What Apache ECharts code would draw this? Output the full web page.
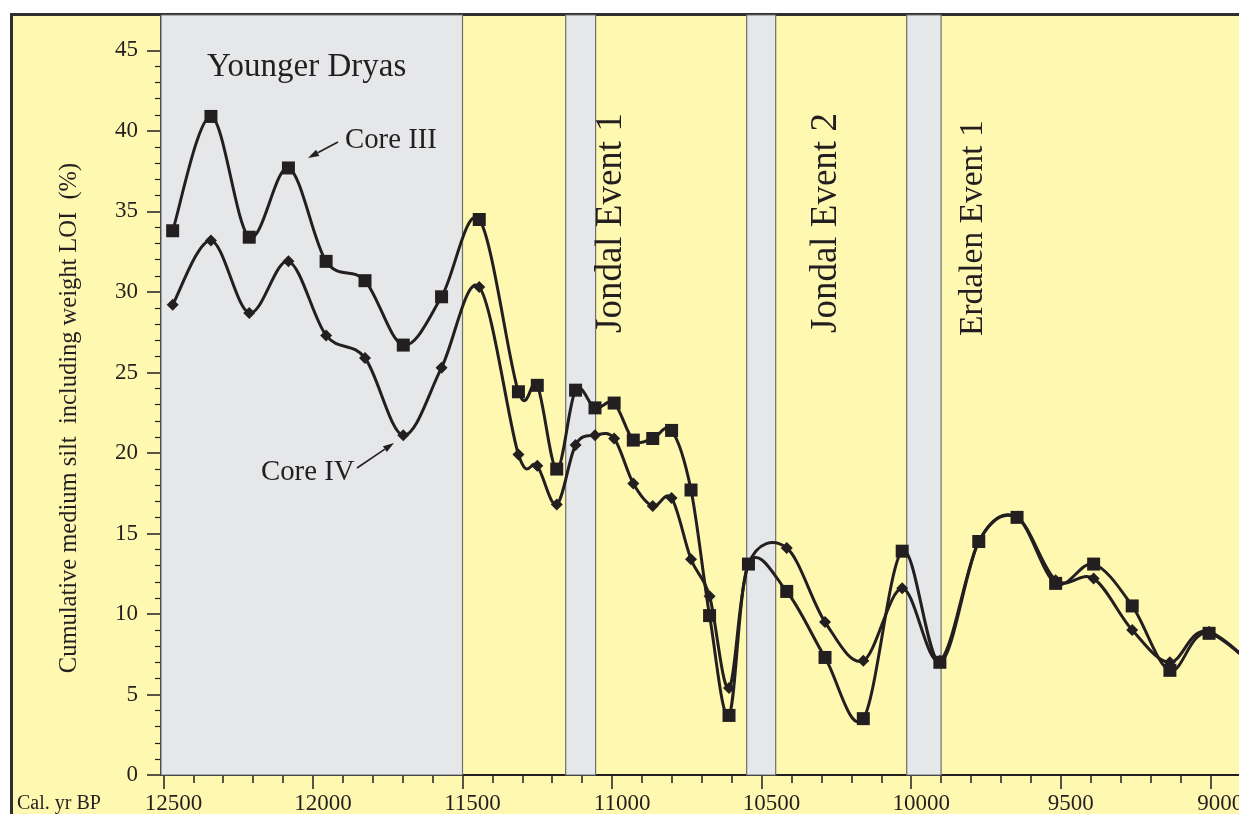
<!DOCTYPE html>
<html>
<head>
<meta charset="utf-8">
<script src="https://cdn.jsdelivr.net/npm/echarts@6/dist/echarts.min.js"></script>
<style>
html, body { margin: 0; padding: 0; background: #fff; overflow: hidden; }
#frame { position: absolute; left: 10px; top: 13px; width: 1280px; height: 860px; border: 3px solid #2f2f2f; background: #fff8b0; }
#chart { position: absolute; left: 0; top: 0; width: 1239px; height: 814px; }
</style>
</head>
<body>
<div id="frame"></div>
<div id="chart"></div>
<script>
// 年代 cal. yr BP（两个岩芯共用同一取样位置）
const ages = [12469, 12341, 12213, 12082, 11956, 11826, 11698, 11570, 11444, 11313, 11250, 11185, 11122, 11057, 10993, 10929, 10864, 10801, 10736, 10674, 10609, 10544, 10416, 10288, 10160, 10030, 9904, 9774, 9646, 9517, 9390, 9261, 9135, 9004, 8745]
// Core III（方块）
const core3 = [33.8, 40.9, 33.4, 37.7, 31.9, 30.7, 26.7, 29.7, 34.5, 23.8, 24.2, 19.0, 23.9, 22.8, 23.1, 20.8, 20.9, 21.4, 17.7, 9.9, 3.7, 13.1, 11.4, 7.3, 3.5, 13.9, 7.0, 14.5, 16.0, 11.9, 13.1, 10.5, 6.5, 8.8, 4.8]
// Core IV（菱形）
const core4 = [29.2, 33.2, 28.7, 31.9, 27.3, 25.9, 21.1, 25.3, 30.3, 19.9, 19.2, 16.8, 20.5, 21.1, 20.9, 18.1, 16.7, 17.2, 13.4, 11.1, 5.4, 13.1, 14.1, 9.5, 7.1, 11.6, 7.1, 14.5, 16.0, 12.1, 12.2, 9.0, 7.0, 8.9, 4.8]

// 刻度
const xMajor = [12500, 12000, 11500, 11000, 10500, 10000, 9500, 9000]
const yMajor = [0, 5, 10, 15, 20, 25, 30, 35, 40, 45]
const xMinor = []
for (let v = 12400; v >= 8900; v -= 100) if (v % 500 !== 0) xMinor.push(v)
const yMinor = []
for (let v = 1; v < 45; v++) if (v % 5 !== 0) yMinor.push(v)

// 灰色事件区间
const eventFrom = [12508, 11155, 10550, 10015]
const eventTo = [11500, 11055, 10453, 9900]

const ink = '#231f20'
const serif = '"Liberation Serif", "DejaVu Serif", serif'

//箭头
function arrow(x1, y1, x2, y2) {
    const a = Math.atan2(y2 - y1, x2 - x1)
    const len = 11, w = 3.5
    const bx = x2 - Math.cos(a) * len, by = y2 - Math.sin(a) * len
    const px = -Math.sin(a) * w, py = Math.cos(a) * w
    return [
        { type: 'line', z: 100, shape: { x1: x1, y1: y1, x2: bx, y2: by }, style: { stroke: ink, lineWidth: 1.6 } },
        { type: 'polygon', z: 100, shape: { points: [[x2, y2], [bx + px, by + py], [bx - px, by - py]] }, style: { fill: ink } }
    ]
}

function label(text, x, y, size, rot) {
    return {
        type: 'text', x: x, y: y, rotation: rot || 0, z: 100,
        style: { text: text, fontSize: size, fontFamily: serif, fill: ink, align: 'left', verticalAlign: 'middle' }
    }
}

// 过数据点的平滑曲线（Catmull-Rom -> 三次贝塞尔），坐标由 api.coord 换算
function curvePath(pts) {
    let d = 'M' + pts[0][0] + ' ' + pts[0][1]
    for (let i = 0; i < pts.length - 1; i++) {
        const p0 = pts[i - 1] || pts[i], p1 = pts[i], p2 = pts[i + 1], p3 = pts[i + 2] || pts[i + 1]
        const c1x = p1[0] + (p2[0] - p0[0]) / 6, c1y = p1[1] + (p2[1] - p0[1]) / 6
        const c2x = p2[0] - (p3[0] - p1[0]) / 6, c2y = p2[1] - (p3[1] - p1[1]) / 6
        d += ' C' + c1x + ' ' + c1y + ' ' + c2x + ' ' + c2y + ' ' + p2[0] + ' ' + p2[1]
    }
    return d
}

function curveSeries(values, z) {
    return {
        type: 'custom', coordinateSystem: 'cartesian2d', clip: true, silent: true, z: z,
        data: ages.map((a, i) => [a, values[i]]),
        encode: { x: 0, y: 1 },
        renderItem(params, api) {
            if (params.dataIndex !== 0) return null
            const pts = ages.map((a, i) => api.coord([a, values[i]]))
            return {
                type: 'path',
                shape: { pathData: curvePath(pts) },
                style: { stroke: ink, lineWidth: 3, fill: 'none' }
            }
        }
    }
}

function markerSeries(name, values, symbol, size, z) {
    return {
        name: name, type: 'line',
        data: ages.map((a, i) => [a, values[i]]),
        symbol: symbol, symbolSize: size, showAllSymbol: true,
        lineStyle: { opacity: 0 },
        itemStyle: { color: ink },
        z: z
    }
}

const myChart = echarts.init(document.getElementById('chart'))

const plain = v => String(v)

const baseX = {
    type: 'value', inverse: true, min: 8904, max: 12508, position: 'bottom',
    splitLine: { show: false }
}
const baseY = {
    type: 'value', min: 0, max: 47.2, position: 'left',
    splitLine: { show: false }
}

const core3Markers = markerSeries('Core III', core3, 'rect', 13, 6)
core3Markers.markArea = {
    silent: true,
    itemStyle: { color: '#e6e7e8', borderColor: '#6d6e71', borderWidth: 1.2 },
    data: eventFrom.map((f, i) => [{ xAxis: f }, { xAxis: eventTo[i] }])
}

const options = {
    animation: false,
    grid: { left: 161, right: 0, top: 15, bottom: 39, outerBoundsMode: 'none', containLabel: false },
    xAxis: [
        Object.assign({}, baseX, {
            axisLine: { show: true, lineStyle: { color: ink, width: 2 } },
            axisTick: { show: true, customValues: xMajor, length: 14, lineStyle: { color: ink, width: 1.5 } },
            axisLabel: { customValues: xMajor, formatter: plain, fontFamily: serif, fontSize: 23, color: ink, margin: 17, padding: [0, 0, 0, 20] }
        }),
        Object.assign({}, baseX, {
            axisLine: { show: false },
            axisTick: { show: true, customValues: xMinor, length: 8, lineStyle: { color: ink, width: 1.5 } },
            axisLabel: { show: false }
        })
    ],
    yAxis: [
        Object.assign({}, baseY, {
            axisLine: { show: true, lineStyle: { color: ink, width: 2 } },
            axisTick: { show: true, customValues: yMajor, length: 14, lineStyle: { color: ink, width: 1.5 } },
            axisLabel: { customValues: yMajor, formatter: plain, fontFamily: serif, fontSize: 23, color: ink, margin: 23 }
        }),
        Object.assign({}, baseY, {
            axisLine: { show: false },
            axisTick: { show: true, customValues: yMinor, length: 6, lineStyle: { color: ink, width: 1.2 } },
            axisLabel: { show: false }
        })
    ],
    series: [
        core3Markers,
        markerSeries('Core IV', core4, 'diamond', 12, 5),
        curveSeries(core3, 4),
        curveSeries(core4, 3)
    ],
    graphic: [
        label('Younger Dryas', 207, 67, 33),
        label('Core III', 345, 140, 28.8),
        label('Core IV', 261, 472, 28.8),
        label('Jondal Event 1', 611, 333, 37, Math.PI / 2),
        label('Jondal Event 2', 826, 333, 37, Math.PI / 2),
        label('Erdalen Event 1', 973, 336, 33.5, Math.PI / 2),
        {
            type: 'text', x: 70, y: 418, rotation: Math.PI / 2, z: 100,
            style: { text: 'Cumulative medium silt  including weight LOI  (%)', fontSize: 24.5, fontFamily: serif, fill: ink, align: 'center', verticalAlign: 'middle' }
        },
        label('Cal. yr BP', 17, 804, 20)
    ].concat(arrow(338, 142, 308, 158), arrow(357, 468, 394, 443))
}

myChart.setOption(options)
</script>
</body>
</html>
